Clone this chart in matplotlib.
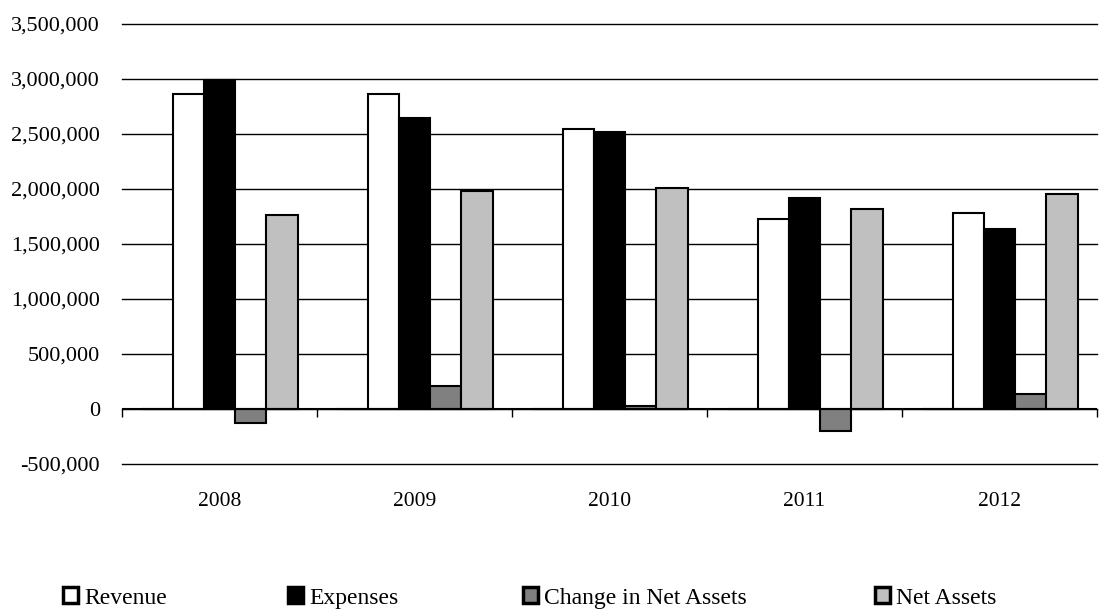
import numpy as np
import matplotlib.pyplot as plt
from matplotlib.patches import Patch
from matplotlib.ticker import FuncFormatter

plt.rcParams["font.family"] = ["Liberation Serif", "DejaVu Serif"]

years = ["2008", "2009", "2010", "2011", "2012"]
other = [0, 0, 0, 0, 0]
revenue = [2865000, 2860000, 2545000, 1727000, 1780000]
expenses = [2990000, 2650000, 2515000, 1920000, 1640000]
change = [-127000, 210000, 30000, -200000, 136000]
net_assets = [1765000, 1980000, 2010000, 1820000, 1955000]

series = [
    (other, "black", None),
    (revenue, "white", "Revenue"),
    (expenses, "black", "Expenses"),
    (change, "#808080", "Change in Net Assets"),
    (net_assets, "#c0c0c0", "Net Assets"),
]

fig = plt.figure(figsize=(11.18, 6.09), dpi=100)
ax = fig.add_axes([122 / 1118, 1 - 464 / 609, 975 / 1118, 440 / 609])

x = np.arange(len(years))
w = 0.16
for i, (vals, col, lab) in enumerate(series):
    ax.bar(x + (i - 2) * w, vals, w, color=col, edgecolor="black",
           linewidth=1.5, zorder=3)

ax.set_xlim(-0.5, len(years) - 0.5)
ax.set_ylim(-500000, 3500000)
ax.set_yticks(np.arange(-500000, 3500001, 500000))
ax.yaxis.set_major_formatter(FuncFormatter(lambda v, p: f"{int(v):,}"))
ax.grid(axis="y", color="black", linewidth=1, zorder=0)
for gl in ax.get_ygridlines():
    gl.set_clip_on(False)
ax.axhline(0, color="black", linewidth=1.5, zorder=4)
for s in ax.spines.values():
    s.set_visible(False)
ax.tick_params(axis="y", length=0, pad=16, labelsize=16)
ax.set_xticks(x)
ax.set_xticklabels(years)
ax.tick_params(axis="x", length=0, pad=20, labelsize=15.5)

# category boundary ticks on the zero line
sec = ax.secondary_xaxis(500000 / 4000000)
sec.set_xticks(np.arange(-0.5, len(years), 1.0))
sec.tick_params(axis="x", length=6, width=1, labelbottom=False, color="black")
sec.spines["bottom"].set_visible(False)

leg_x = [63, 288, 523, 875]
for (vals, col, lab), lx in zip(series[1:], leg_x):
    fig.legend(handles=[Patch(facecolor=col, edgecolor="black", linewidth=2.5, label=lab)],
               loc="center left", bbox_to_anchor=(lx / 1118, 1 - 598 / 609),
               frameon=False, fontsize=17, borderpad=0, borderaxespad=0,
               handlelength=0.65, handleheight=0.65, handletextpad=0.25)

fig.savefig("out.png", dpi=100)
